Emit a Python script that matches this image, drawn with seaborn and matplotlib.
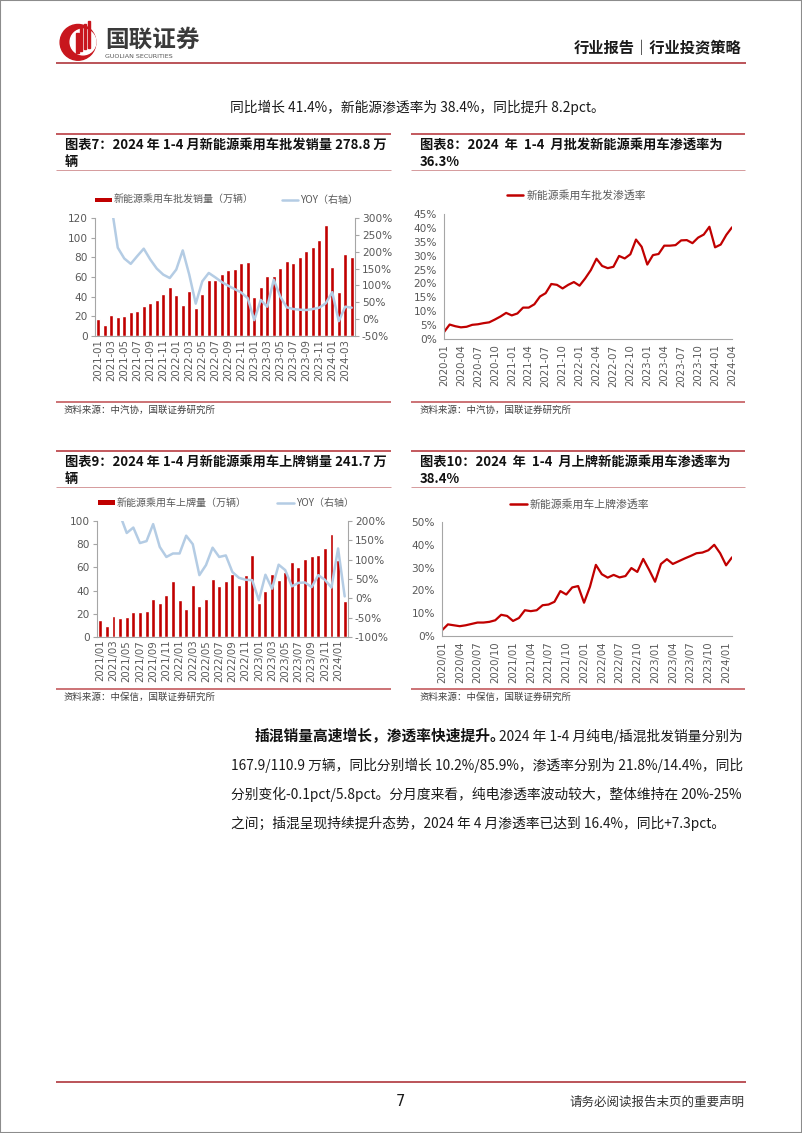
import numpy as np
import pandas as pd
import matplotlib
matplotlib.use("Agg")
import matplotlib.pyplot as plt
import seaborn as sns
from matplotlib.lines import Line2D
from matplotlib.patches import Rectangle, Circle

sns.set_theme(style="white")
plt.rcParams["font.family"] = ["Noto Sans CJK SC", "DejaVu Sans"]
plt.rcParams["axes.unicode_minus"] = False

# ---------------- data ----------------
# Chart 7: NEV passenger car wholesale (10k units) and YoY (%)
wh_months = list(pd.date_range("2021-01-01", periods=40, freq="MS").strftime("%Y-%m"))
wh_sales = [17.5, 11, 21, 19, 20.5, 24, 25, 30.5, 34, 36.5, 42.5, 49.5,
            41.5, 32, 46, 28, 42.5, 57, 57, 63.5, 67.5, 68, 74, 75.5,
            39.5, 50, 61.5, 61, 69, 76.5, 74.5, 80.5, 86, 91, 97.5, 112.5,
            70, 45, 83, 80.5]
wh_yoy = [np.nan, np.nan, 340, 212, 180, 164, 187, 209, 177, 150, 132, 122,
          147, 204, 132, 46, 112, 137, 124, 110, 99, 89, 79, 62,
          -3, 57, 37, 117, 67, 35, 30, 28, 27, 30, 34, 47,
          80, -6, 37, 34]
wh_left_ticks = [0, 20, 40, 60, 80, 100, 120]
wh_right_ticks = [-50, 0, 50, 100, 150, 200, 250, 300]

# Chart 8: wholesale NEV penetration (%)
pen8_months = list(pd.date_range("2020-01-01", periods=52, freq="MS").strftime("%Y-%m"))
pen8 = [2.5, 5.2, 4.6, 4.2, 4.4, 5.1, 5.3, 5.7, 6.0, 7.0, 8.1, 9.4,
        8.5, 9.2, 11.3, 11.3, 12.5, 15.3, 16.5, 19.8, 19.5, 18.2, 19.5, 20.5,
        19.2, 21.8, 24.8, 28.9, 26.3, 25.5, 26.0, 29.9, 29.0, 30.5, 35.8, 33.2,
        26.8, 30.2, 30.6, 33.6, 33.6, 33.8, 35.5, 35.6, 34.5, 36.5, 37.6, 40.4,
        33.0, 34.0, 37.5, 40.2]
pen8_ticks = [0, 5, 10, 15, 20, 25, 30, 35, 40, 45]

# Chart 9: NEV passenger car registrations (10k units) and YoY (%)
reg_months = list(pd.date_range("2021-01-01", periods=38, freq="MS").strftime("%Y/%m"))
reg_sales = [14.5, 9.5, 18.5, 16.5, 17.5, 21.5, 21.5, 22.5, 32.5, 29, 36.5, 48,
             31.5, 24.5, 44.5, 26.5, 32.5, 50, 44, 48, 54, 44.5, 53.5, 70.5,
             29, 39.5, 54, 49, 56, 64.5, 60.5, 67.5, 69.5, 71, 76.5, 88.5,
             66, 31]
reg_yoy = [np.nan, np.nan, np.nan, 215, 169, 183, 143, 148, 192, 133, 107, 116,
           116, 162, 140, 60, 86, 131, 107, 111, 68, 53, 48, 47,
           -5, 61, 25, 87, 73, 31, 40, 41, 29, 60, 48, 28,
           129, 5]
reg_left_ticks = [0, 20, 40, 60, 80, 100]
reg_right_ticks = [-100, -50, 0, 50, 100, 150, 200]

# Chart 10: registration NEV penetration (%)
pen10_months = list(pd.date_range("2020-01-01", periods=50, freq="MS").strftime("%Y/%m"))
pen10 = [2.5, 5.1, 4.7, 4.3, 4.7, 5.3, 5.9, 5.9, 6.2, 6.9,
         9.3, 8.8, 6.6, 7.9, 11.3, 10.9, 11.3, 13.5, 13.8, 15.0,
         19.7, 18.2, 21.3, 21.9, 14.6, 21.6, 31.2, 27.1, 25.6, 26.8,
         25.7, 26.3, 29.8, 28.1, 33.8, 29.0, 23.8, 31.6, 33.7, 31.6,
         32.8, 34.0, 35.1, 36.3, 36.6, 37.6, 40.0, 36.3, 31.0, 34.5]
pen10_ticks = [0, 10, 20, 30, 40, 50]

# ---------------- figure ----------------
W, H = 802, 1133
RED = "#C00000"
BLUE = "#B4CCE4"
LINE_RED = "#BE4B50"
AX_COL = "#A6A6A6"
TXT_COL = "#595959"
NUM_FONT = "DejaVu Sans"

fig = plt.figure(figsize=(W / 100, H / 100), dpi=100)
fig.patch.set_facecolor("white")


def fx(x):
    return x / W


def fy(y):
    return 1 - y / H


def add_ax(x0, y0, x1, y1):
    return fig.add_axes([fx(x0), fy(y1), (x1 - x0) / W, (y1 - y0) / H])


def hline(x0, x1, y, color=LINE_RED, lw=1.2):
    fig.add_artist(Line2D([fx(x0), fx(x1)], [fy(y), fy(y)], transform=fig.transFigure,
                          color=color, lw=lw, solid_capstyle="butt"))


def txt(x, y, s, **kw):
    kw.setdefault("va", "center")
    return fig.text(fx(x), fy(y), s, **kw)


def style(ax, left=True, right=False, bottom=True):
    for side in ["top", "left", "right", "bottom"]:
        ax.spines[side].set_visible(False)
    if left:
        ax.spines["left"].set_visible(True)
        ax.spines["left"].set_color(AX_COL)
        ax.spines["left"].set_linewidth(0.8)
    if right:
        ax.spines["right"].set_visible(True)
        ax.spines["right"].set_color(AX_COL)
        ax.spines["right"].set_linewidth(0.8)
    if bottom:
        ax.spines["bottom"].set_visible(True)
        ax.spines["bottom"].set_color(AX_COL)
        ax.spines["bottom"].set_linewidth(0.8)
    ax.set_xlabel("")
    ax.set_ylabel("")
    ax.tick_params(axis="y", which="both", direction="out", length=3, width=0.8,
                   color=AX_COL, labelsize=7.6, labelcolor=TXT_COL, pad=2)
    ax.tick_params(axis="x", which="both", direction="out", length=2, width=0.8,
                   color=AX_COL, labelsize=7.3, labelcolor=TXT_COL, pad=2)
    for lab in ax.get_xticklabels() + ax.get_yticklabels():
        lab.set_fontfamily(NUM_FONT)


# page border
fig.add_artist(Rectangle((0, 0), 1, 1, transform=fig.transFigure, fill=False,
                         ec="#8c8c8c", lw=1.5))

# ---------------- header ----------------
lax = add_ax(58, 20, 98, 62)
lax.set_xlim(-1.1, 1.1)
lax.set_ylim(-1.1, 1.25)
lax.set_aspect("equal")
lax.axis("off")
logo_red = "#C8161D"
lax.add_patch(Circle((0, 0), 1.0, color=logo_red))
lax.add_patch(Circle((0.28, 0.02), 0.72, color="white"))
for i, (bx, top) in enumerate([(-0.1, 0.55), (0.12, 0.8), (0.34, 1.0), (0.56, 1.2)]):
    lax.add_patch(Rectangle((bx, -0.6 + 0.1 * i), 0.13, top + 0.6 - 0.1 * i, color=logo_red))
txt(105, 40, "国联证券", fontsize=17, fontweight="bold", color="#3a3a3a", ha="left")
txt(105, 56, "GUOLIAN SECURITIES", fontsize=4.6, color="#555555", ha="left",
    family=["DejaVu Sans"])
txt(742, 48, "行业报告｜行业投资策略", fontsize=11, fontweight="bold", color="#1a1a1a", ha="right")
hline(56, 746, 63, color="#B5454B", lw=1.3)

BODY = dict(fontsize=9.9, color="#1a1a1a", ha="left")
txt(230, 107, "同比增长 41.4%，新能源渗透率为 38.4%，同比提升 8.2pct。", **BODY)

# ---------------- title / source boxes ----------------
def box(x0, x1, y_top, lines, y_src_line, src):
    hline(x0, x1, y_top, lw=1.3)
    txt(x0 + 9, y_top + 11, lines[0], fontsize=9.5, fontweight="bold", color="#111111", ha="left")
    txt(x0 + 9, y_top + 28, lines[1], fontsize=9.5, fontweight="bold", color="#111111", ha="left")
    hline(x0, x1, y_top + 36, color="#D59A9C", lw=0.7)
    hline(x0, x1, y_src_line, lw=1.1)
    txt(x0 + 8, y_src_line + 8, src, fontsize=6.8, color="#404040", ha="left")


box(56, 391, 134, ["图表7：2024 年 1-4 月新能源乘用车批发销量 278.8 万", "辆"],
    402, "资料来源：中汽协，国联证券研究所")
box(411, 745, 134, ["图表8：2024  年  1-4  月批发新能源乘用车渗透率为", "36.3%"],
    402, "资料来源：中汽协，国联证券研究所")
box(56, 391, 451, ["图表9：2024 年 1-4 月新能源乘用车上牌销量 241.7 万", "辆"],
    689, "资料来源：中保信，国联证券研究所")
box(411, 745, 451, ["图表10：2024  年  1-4  月上牌新能源乘用车渗透率为", "38.4%"],
    689, "资料来源：中保信，国联证券研究所")

# ---------------- chart 7 ----------------
df7 = pd.DataFrame({"pos": np.arange(len(wh_months)), "sales": wh_sales, "yoy": wh_yoy})
ax7 = add_ax(95, 218, 355, 336)
sns.barplot(data=df7, x="pos", y="sales", native_scale=True, orient="x", color=RED,
            saturation=1, width=0.6, errorbar=None, ax=ax7)
ax7.set_xlim(-0.5, len(wh_months) - 0.5)
ax7.set_ylim(wh_left_ticks[0], wh_left_ticks[-1])
ax7.set_yticks(wh_left_ticks)
ax7.set_yticklabels([str(v) for v in wh_left_ticks])
ax7.set_xticks(df7["pos"][::2])
ax7.set_xticklabels(wh_months[::2], rotation=90)
style(ax7)
ax7.tick_params(axis="x", length=0)
ax7b = ax7.twinx()
sns.lineplot(data=df7, x="pos", y="yoy", color=BLUE, lw=1.8, legend=False, ax=ax7b)
ax7b.set_ylim(wh_right_ticks[0], wh_right_ticks[-1])
ax7b.set_yticks(wh_right_ticks)
ax7b.set_yticklabels([f"{v}%" for v in wh_right_ticks])
style(ax7b, left=False, right=True, bottom=False)
ax7b.set_xlim(-0.5, len(wh_months) - 0.5)

fig.add_artist(Rectangle((fx(95), fy(202)), 17 / W, 4.5 / H, transform=fig.transFigure,
                         color=RED, lw=0))
txt(114, 200, "新能源乘用车批发销量（万辆）", fontsize=7.2, color=TXT_COL, ha="left")
fig.add_artist(Line2D([fx(282), fx(298)], [fy(200), fy(200)], transform=fig.transFigure,
                      color=BLUE, lw=1.8))
txt(300, 200, "YOY（右轴）", fontsize=7.2, color=TXT_COL, ha="left")

# ---------------- chart 8 ----------------
df8 = pd.DataFrame({"pos": np.arange(len(pen8_months)), "pen": pen8})
ax8 = add_ax(444, 214, 732, 339)
sns.lineplot(data=df8, x="pos", y="pen", color=RED, lw=1.6, legend=False, ax=ax8)
ax8.set_xlim(0, len(pen8_months) - 1)
ax8.set_ylim(pen8_ticks[0], pen8_ticks[-1])
ax8.set_yticks(pen8_ticks)
ax8.set_yticklabels([f"{v}%" for v in pen8_ticks])
ax8.set_xticks(df8["pos"][::3])
ax8.set_xticklabels(pen8_months[::3], rotation=90)
style(ax8)
fig.add_artist(Line2D([fx(507), fx(523)], [fy(195), fy(195)], transform=fig.transFigure,
                      color=RED, lw=1.8))
txt(527, 195, "新能源乘用车批发渗透率", fontsize=7.8, color=TXT_COL, ha="left")

# ---------------- chart 9 ----------------
df9 = pd.DataFrame({"pos": np.arange(len(reg_months)), "sales": reg_sales, "yoy": reg_yoy})
ax9 = add_ax(97, 521, 348, 637)
sns.barplot(data=df9, x="pos", y="sales", native_scale=True, orient="x", color=RED,
            saturation=1, width=0.6, errorbar=None, ax=ax9)
ax9.set_xlim(-0.5, len(reg_months) - 0.5)
ax9.set_ylim(reg_left_ticks[0], reg_left_ticks[-1])
ax9.set_yticks(reg_left_ticks)
ax9.set_yticklabels([str(v) for v in reg_left_ticks])
ax9.set_xticks(df9["pos"][::2])
ax9.set_xticklabels(reg_months[::2], rotation=90)
style(ax9)
ax9.tick_params(axis="x", length=0)
ax9b = ax9.twinx()
sns.lineplot(data=df9, x="pos", y="yoy", color=BLUE, lw=1.8, legend=False, ax=ax9b)
ax9b.set_ylim(reg_right_ticks[0], reg_right_ticks[-1])
ax9b.set_yticks(reg_right_ticks)
ax9b.set_yticklabels([f"{v}%" for v in reg_right_ticks])
style(ax9b, left=False, right=True, bottom=False)
ax9b.set_xlim(-0.5, len(reg_months) - 0.5)

fig.add_artist(Rectangle((fx(98), fy(505)), 17 / W, 4.5 / H, transform=fig.transFigure,
                         color=RED, lw=0))
txt(117, 503, "新能源乘用车上牌量（万辆）", fontsize=7.2, color=TXT_COL, ha="left")
fig.add_artist(Line2D([fx(277), fx(294)], [fy(503), fy(503)], transform=fig.transFigure,
                      color=BLUE, lw=1.8))
txt(296, 503, "YOY（右轴）", fontsize=7.2, color=TXT_COL, ha="left")

# ---------------- chart 10 ----------------
df10 = pd.DataFrame({"pos": np.arange(len(pen10_months)), "pen": pen10})
ax10 = add_ax(442, 522, 732, 636)
sns.lineplot(data=df10, x="pos", y="pen", color=RED, lw=1.6, legend=False, ax=ax10)
ax10.set_xlim(0, len(pen10_months) - 1)
ax10.set_ylim(pen10_ticks[0], pen10_ticks[-1])
ax10.set_yticks(pen10_ticks)
ax10.set_yticklabels([f"{v}%" for v in pen10_ticks])
ax10.set_xticks(df10["pos"][::3])
ax10.set_xticklabels(pen10_months[::3], rotation=90)
style(ax10)
fig.add_artist(Line2D([fx(510), fx(527)], [fy(504), fy(504)], transform=fig.transFigure,
                      color=RED, lw=1.8))
txt(530, 504, "新能源乘用车上牌渗透率", fontsize=7.8, color=TXT_COL, ha="left")

# ---------------- body paragraph ----------------
txt(255, 736, "插混销量高速增长，渗透率快速提升。", fontsize=10.6, fontweight="bold",
    color="#111111", ha="left")
txt(743, 736, "2024 年 1-4 月纯电/插混批发销量分别为", fontsize=9.9, color="#1a1a1a", ha="right")
txt(231, 765, "167.9/110.9 万辆，同比分别增长 10.2%/85.9%，渗透率分别为 21.8%/14.4%，同比", **BODY)
txt(231, 794, "分别变化-0.1pct/5.8pct。分月度来看，纯电渗透率波动较大，整体维持在 20%-25%", **BODY)
txt(231, 823, "之间；插混呈现持续提升态势，2024 年 4 月渗透率已达到 16.4%，同比+7.3pct。", **BODY)

# ---------------- footer ----------------
hline(56, 746, 1082, color="#B5454B", lw=1.3)
txt(400, 1102, "7", fontsize=10.5, color="#1a1a1a", ha="center", family=["DejaVu Sans"])
txt(745, 1102, "请务必阅读报告末页的重要声明", fontsize=9, color="#333333", ha="right")

fig.savefig("out.png", dpi=100, facecolor="white")
